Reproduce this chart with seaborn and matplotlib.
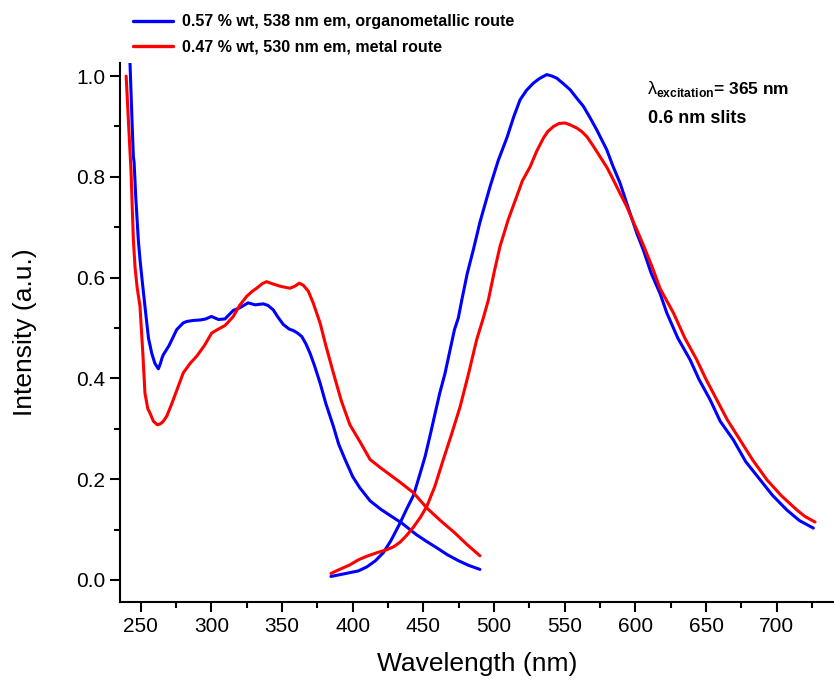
import matplotlib
matplotlib.use("Agg")
import matplotlib.pyplot as plt
import seaborn as sns
import pandas as pd
from matplotlib.lines import Line2D
from matplotlib.ticker import MultipleLocator

sns.set_style("ticks")
plt.rcParams['font.family'] = ['Liberation Sans', 'DejaVu Sans']
plt.rcParams['mathtext.fontset'] = 'custom'
plt.rcParams['mathtext.rm'] = 'Liberation Sans'
plt.rcParams['mathtext.bf'] = 'Liberation Sans:bold'
for k in ['text.color', 'axes.labelcolor', 'xtick.color', 'ytick.color', 'axes.edgecolor']:
    plt.rcParams[k] = 'black'

# ---- data ----
blue_exc_nm = [242.0, 244.0, 244.8, 245.3, 246.5, 248.3, 249.5, 251.2, 253.0, 255.5, 257.8, 260.0, 262.5,
               264.0, 265.0, 266.0, 270.0, 275.5, 280.0, 282.5, 287.0, 292.0, 296.0, 300.0, 305.0, 309.6,
               312.0, 315.5, 320.0, 326.0, 331.0, 336.7, 340.0, 343.8, 347.0, 350.9, 355.0, 358.0, 361.0,
               364.0, 367.0, 369.8, 373.0, 376.9, 381.0, 386.3, 390.0, 394.6, 400.0, 405.0, 412.3, 420.0,
               427.0, 434.7, 445.0, 452.0, 459.4, 467.0, 475.0, 482.0, 490.0]
blue_exc_I = [1.06, 0.90, 0.84, 0.83, 0.76, 0.675, 0.636, 0.59, 0.543, 0.48, 0.45, 0.43, 0.419,
              0.43, 0.44, 0.447, 0.465, 0.497, 0.51, 0.513, 0.515, 0.516, 0.518, 0.523, 0.517, 0.518,
              0.525, 0.535, 0.54, 0.55, 0.546, 0.548, 0.545, 0.536, 0.522, 0.507, 0.498, 0.495, 0.49,
              0.483, 0.468, 0.45, 0.425, 0.391, 0.35, 0.305, 0.27, 0.239, 0.205, 0.183, 0.157, 0.14,
              0.127, 0.113, 0.09, 0.077, 0.064, 0.05, 0.038, 0.029, 0.021]

red_exc_nm = [239.7, 241.5, 243.1, 244.8, 246.0, 247.5, 249.5, 251.5, 253.0, 255.0, 256.6, 259.0, 261.8,
              264.0, 266.0, 268.4, 272.0, 276.0, 280.1, 285.0, 289.6, 295.0, 300.2, 305.0, 309.6, 312.0,
              315.5, 320.0, 325.0, 329.0, 332.0, 336.0, 339.0, 343.0, 348.6, 352.0, 355.6, 359.0, 362.2,
              365.0, 368.6, 372.0, 376.9, 381.0, 386.3, 392.0, 398.0, 405.0, 412.3, 420.0, 433.5, 443.0,
              452.4, 462.0, 472.0, 481.0, 490.0]
red_exc_I = [1.0, 0.90, 0.814, 0.675, 0.62, 0.58, 0.543, 0.45, 0.371, 0.34, 0.331, 0.315, 0.308,
             0.31, 0.315, 0.325, 0.35, 0.38, 0.411, 0.43, 0.444, 0.465, 0.49, 0.498, 0.505, 0.512,
             0.523, 0.545, 0.563, 0.573, 0.579, 0.588, 0.592, 0.588, 0.583, 0.581, 0.579, 0.583, 0.589,
             0.585, 0.573, 0.55, 0.51, 0.465, 0.411, 0.355, 0.308, 0.275, 0.239, 0.222, 0.194, 0.173,
             0.143, 0.118, 0.094, 0.07, 0.048]

blue_em_nm = [384.6, 390.0, 397.0, 404.0, 410.0, 416.0, 421.6, 427.0, 433.5, 438.0, 443.0, 447.0,
              451.2, 455.0, 458.3, 461.5, 465.3, 468.9, 472.0, 474.7, 477.2, 481.0, 485.3, 490.0, 497.2,
              503.0, 509.0, 514.0, 518.4, 523.0, 527.8, 532.0, 537.3, 541.0, 544.3, 549.0, 553.8, 558.0,
              563.2, 568.0, 572.7, 579.7, 584.0, 589.1, 595.0, 601.0, 605.6, 611.0, 617.5, 622.2, 630.0,
              638.7, 645.0, 652.8, 660.0, 669.3, 678.0, 688.2, 697.0, 707.1, 716.0, 725.9]
blue_em_I = [0.007, 0.010, 0.014, 0.018, 0.026, 0.038, 0.054, 0.078, 0.113, 0.14, 0.168, 0.205,
             0.245, 0.29, 0.331, 0.37, 0.41, 0.457, 0.497, 0.52, 0.556, 0.608, 0.655, 0.71, 0.781,
             0.833, 0.877, 0.92, 0.953, 0.972, 0.986, 0.995, 1.003, 1.0, 0.996, 0.985, 0.973, 0.958,
             0.94, 0.917, 0.893, 0.854, 0.822, 0.788, 0.738, 0.688, 0.655, 0.61, 0.568, 0.53, 0.48,
             0.437, 0.398, 0.358, 0.315, 0.278, 0.235, 0.199, 0.168, 0.139, 0.118, 0.103]

red_em_nm = [384.6, 390.0, 398.0, 404.0, 409.9, 417.0, 424.0, 429.0, 433.5, 438.0, 443.0, 448.0, 452.4,
             458.0, 464.1, 470.0, 476.0, 482.0, 487.7, 492.4, 496.0, 500.0, 504.2, 510.0, 516.0, 520.0,
             525.5, 530.0, 534.9, 538.0, 542.0, 546.0, 550.2, 554.0, 558.5, 562.0, 565.6, 570.0, 575.0,
             580.0, 584.4, 589.0, 593.9, 598.0, 602.1, 606.0, 612.0, 617.5, 626.9, 635.0, 643.4, 650.0,
             657.5, 665.0, 674.0, 683.0, 693.0, 703.0, 714.2, 720.0, 727.1]
red_em_I = [0.013, 0.02, 0.03, 0.04, 0.047, 0.054, 0.06, 0.066, 0.075, 0.088, 0.105, 0.125, 0.146,
            0.185, 0.239, 0.29, 0.344, 0.41, 0.477, 0.52, 0.556, 0.61, 0.662, 0.715, 0.761, 0.792,
            0.82, 0.85, 0.877, 0.89, 0.9, 0.906, 0.907, 0.903, 0.897, 0.89, 0.88, 0.862, 0.84,
            0.818, 0.794, 0.768, 0.741, 0.714, 0.688, 0.662, 0.62, 0.578, 0.53, 0.48, 0.437, 0.398,
            0.358, 0.318, 0.278, 0.238, 0.199, 0.168, 0.139, 0.126, 0.115]

label_blue = "0.57 % wt, 538 nm em, organometallic route"
label_red = "0.47 % wt, 530 nm em, metal route"
x_ticks = [250, 300, 350, 400, 450, 500, 550, 600, 650, 700]
y_ticks = [0.0, 0.2, 0.4, 0.6, 0.8, 1.0]

BLUE = "#0000FF"
RED = "#FF0000"

fig = plt.figure(figsize=(8.34, 6.84), dpi=100)
W, H = 834, 684
ax = fig.add_axes([120 / W, 1 - 602 / H, 714 / W, (602 - 63) / H])

segments = [
    (blue_exc_nm, blue_exc_I, BLUE),
    (blue_em_nm, blue_em_I, BLUE),
    (red_exc_nm, red_exc_I, RED),
    (red_em_nm, red_em_I, RED),
]
for xs, ys, c in segments:
    df = pd.DataFrame({"nm": xs, "I": ys})
    sns.lineplot(data=df, x="nm", y="I", ax=ax, color=c, linewidth=2.2,
                 estimator=None, sort=False, legend=False)

ax.set_xlim(235.35, 740.5)
ax.set_ylim(-0.0437, 1.026)
ax.set_xticks(x_ticks)
ax.set_yticks(y_ticks)
ax.set_yticklabels([f"{v:.1f}" for v in y_ticks])
ax.xaxis.set_minor_locator(MultipleLocator(25))
ax.yaxis.set_minor_locator(MultipleLocator(0.1))
ax.tick_params(axis="both", which="major", direction="out", length=7, width=1.5,
               labelsize=15, color="black", labelcolor="black")
ax.tick_params(axis="both", which="minor", direction="out", length=4, width=1.5, color="black")
for s in ["top", "right"]:
    ax.spines[s].set_visible(False)
for s in ["left", "bottom"]:
    ax.spines[s].set_linewidth(1.5)
    ax.spines[s].set_color("black")

ax.set_xlabel("Wavelength (nm)", fontsize=19, labelpad=12)
ax.set_ylabel("Intensity (a.u.)", fontsize=19, labelpad=28)

handles = [Line2D([], [], color=BLUE, linewidth=2.4),
           Line2D([], [], color=RED, linewidth=2.4)]
fig.legend(handles, [label_blue, label_red], loc="upper left",
           bbox_to_anchor=(126.5 / W, 1 - 8 / H), frameon=False,
           prop={"weight": "bold", "size": 11.5}, handlelength=2.5,
           handletextpad=0.56, labelspacing=0.62, borderaxespad=0)

fig.text(648 / W, 1 - 94 / H, "λ", fontsize=13, fontweight="normal",
         va="baseline", ha="left")
fig.text(656 / W, 1 - 94 / H, r"${}_{\mathregular{excitation}}$= 365 nm",
         fontsize=12.5, fontweight="bold", va="baseline", ha="left")
fig.text(648 / W, 1 - 123 / H, "0.6 nm slits",
         fontsize=13, fontweight="bold", va="baseline", ha="left")

fig.savefig("out.png", dpi=100)
